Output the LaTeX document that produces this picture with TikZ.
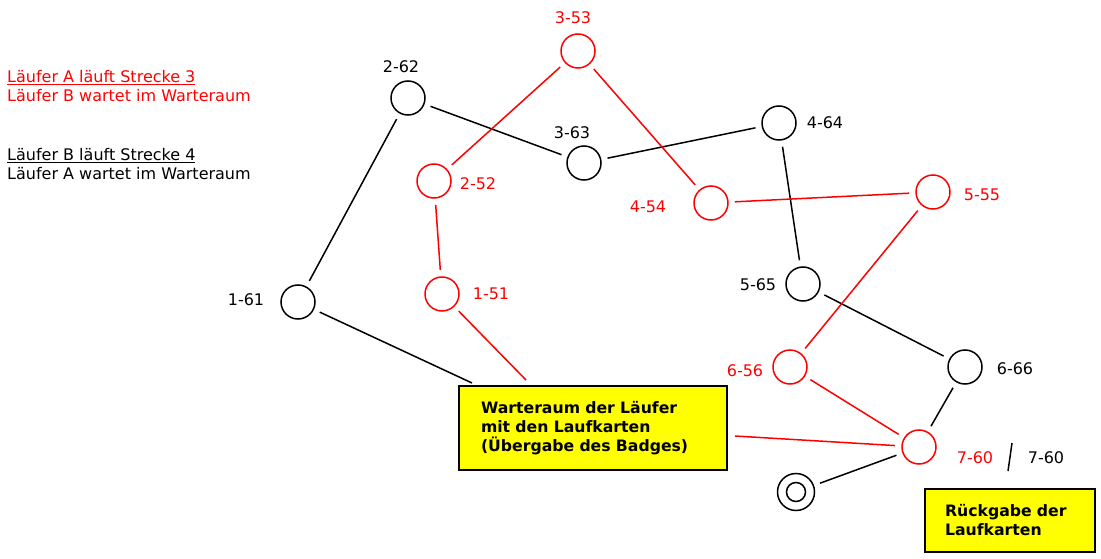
\documentclass[tikz,border=0pt]{standalone}
\usepackage{fontspec}
\setmainfont{DejaVu Sans}
\usetikzlibrary{calc,positioning}
\definecolor{runred}{RGB}{255,0,0}
\definecolor{boxyellow}{RGB}{255,255,0}

\begin{document}
\begin{tikzpicture}[x=1pt, y=-1pt,
		station/.style={circle, draw=black, line width=1.5pt, minimum size=34pt, inner sep=0pt, outer sep=7pt},
		redstation/.style={station, draw=runred},
		tag/.style={font=\fontsize{16}{19}\selectfont, inner sep=0pt},
		redtag/.style={tag, text=runred},
		track/.style={line width=1.5pt},
		redtrack/.style={track, draw=runred},
		note/.style={rectangle, draw=black, fill=boxyellow, line width=1.5pt, align=left,
				font=\fontsize{15.7}{19}\selectfont\bfseries, outer sep=0pt}]
	\useasboundingbox (0,0) rectangle (1101,559);

	% legend
	\node (legA) [tag, text=runred, anchor=west, align=left] at (7,86)
	{\underline{Läufer A läuft Strecke 3}\\ Läufer B wartet im Warteraum};
	\node (legB) [tag, anchor=west, align=left] at (7,164)
	{\underline{Läufer B läuft Strecke 4}\\ Läufer A wartet im Warteraum};

	% black course
	\node (s161) [station] at (298,302) {};
	\node (s262) [station] at (408,98) {};
	\node (s363) [station] at (584,163) {};
	\node (s464) [station] at (779,123) {};
	\node (s565) [station] at (803,284) {};
	\node (s666) [station] at (965,367) {};

	\node (t161) [tag] at (246,300) {1-61};
	\node (t262) [tag] at (401,67) {2-62};
	\node (t363) [tag] at (572,133) {3-63};
	\node (t464) [tag] at (825,123) {4-64};
	\node (t565) [tag] at (758,285) {5-65};
	\node (t666) [tag] at (1015,369) {6-66};

	% red course
	\node (s151) [redstation] at (442,294) {};
	\node (s252) [redstation] at (434,181) {};
	\node (s353) [redstation] at (578,51) {};
	\node (s454) [redstation] at (711,203) {};
	\node (s555) [redstation] at (933,192) {};
	\node (s656) [redstation] at (790,367) {};
	\node (s760) [redstation] at (919,447) {};

	\node (t151) [redtag] at (491,294) {1-51};
	\node (t252) [redtag] at (478,184) {2-52};
	\node (t353) [redtag] at (573,18) {3-53};
	\node (t454) [redtag] at (648,207) {4-54};
	\node (t555) [redtag] at (982,195) {5-55};
	\node (t656) [redtag] at (745,371) {6-56};
	\node (t760) [redtag] at (975,458) {7-60};
	\node (t760b) [tag] at (1046,458) {7-60};
	\coordinate (slashtop) at (1012,443);
	\coordinate (slashbot) at (1008,471);

	% finish
	\node (ziel) [station, minimum size=37pt] at (796,492) {};
	\node (zielin) [circle, draw, line width=1.5pt, minimum size=19pt, inner sep=0pt] at (ziel) {};

	% boxes
	\node (warte) [note, anchor=north west, text width=224pt, inner xsep=22pt, minimum height=84pt] at (459,386)
	{Warteraum der Läufer\\ mit den Laufkarten\\ (Übergabe des Badges)};
	\node (rueck) [note, anchor=north west, text width=130pt, inner xsep=20pt, minimum height=63pt] at (925,489)
	{Rückgabe der\\ Laufkarten};

	% connections
	\draw [track] (s161) -- (s262);
	\draw [track] (s262) -- (s363);
	\draw [track] (s363) -- (s464);
	\draw [track] (s464) -- (s565);
	\draw [track] (s565) -- (s666);
	\draw [track] (s666) -- (s760);
	\draw [track] (s760) -- (ziel);
	\draw [track] (s161) -- ($(warte.north west)+(13,-3)$);
	\draw [track] (slashtop) -- (slashbot);

	\draw [redtrack] (s151) -- (s252);
	\draw [redtrack] (s252) -- (s353);
	\draw [redtrack] (s353) -- (s454);
	\draw [redtrack] (s454) -- (s555);
	\draw [redtrack] (s555) -- (s656);
	\draw [redtrack] (s656) -- (s760);
	\draw [redtrack] (s151) -- ($(warte.north west)+(67,-6)$);
	\draw [redtrack] ($(warte.east)+(8,8)$) -- (s760);
\end{tikzpicture}
\end{document}
